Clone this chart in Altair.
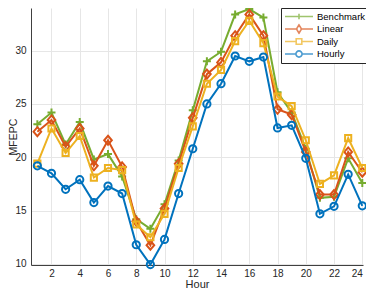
import altair as alt
import pandas as pd

hours = list(range(1, 25))
series_names = ["Benchmark", "Linear", "Daily", "Hourly"]
benchmark = [23.1, 24.2, 21.2, 23.3, 19.8, 20.3, 18.2, 14.2, 13.3, 15.6, 19.7, 24.4,
             29.0, 29.9, 33.4, 33.9, 33.1, 26.1, 24.2, 20.8, 16.2, 16.3, 19.9, 17.6]
linear = [22.4, 23.5, 21.0, 22.7, 19.2, 21.6, 19.1, 14.0, 11.75, 15.2, 19.4, 23.7,
          27.8, 28.9, 31.4, 33.4, 31.4, 24.5, 24.0, 20.5, 16.5, 16.5, 20.5, 18.6]
daily = [19.4, 22.7, 20.4, 22.0, 18.1, 19.0, 18.8, 13.7, 12.5, 14.7, 19.0, 22.9,
         26.9, 28.2, 30.9, 32.8, 30.7, 25.7, 24.8, 21.6, 17.5, 18.3, 21.8, 19.0]
hourly = [19.2, 18.5, 17.0, 17.9, 15.75, 17.3, 16.6, 11.8, 9.94, 12.3, 16.6, 20.8,
          25.0, 26.9, 29.5, 29.0, 29.4, 22.75, 23.0, 19.9, 14.7, 15.4, 18.4, 15.45]
colors = ["#77AC30", "#D95319", "#EDB120", "#0072BD"]
x_ticks = list(range(2, 25, 2))
y_ticks = [10, 15, 20, 25, 30]

values = {"Benchmark": benchmark, "Linear": linear, "Daily": daily, "Hourly": hourly}
df = pd.DataFrame([
    {"hour": h, "series": s, "value": v}
    for s in series_names for h, v in zip(hours, values[s])
])

FONT = "Liberation Sans"
TXT = "#262626"
W, H = 332, 257

x_enc = alt.X(
    "hour:Q",
    scale=alt.Scale(domain=[0.55, 24.05], nice=False, zero=False),
    axis=alt.Axis(values=x_ticks, title="Hour", format="d", grid=True, gridColor="#e6e6e6",
                  ticks=False, domainColor="#404040", labelFont=FONT, labelFontSize=10,
                  labelColor=TXT, labelPadding=3, titleFont=FONT, titleFontSize=11,
                  titleFontWeight="normal", titleColor=TXT, titleX=W / 2, titleY=24,
                  titleBaseline="bottom"),
)
y_enc = alt.Y(
    "value:Q",
    scale=alt.Scale(domain=[9.9, 34.0], nice=False, zero=False),
    axis=alt.Axis(values=y_ticks, title="MFEPC", format="d", grid=True, gridColor="#e6e6e6",
                  ticks=False, domainColor="#404040", labelFont=FONT, labelFontSize=10,
                  labelColor=TXT, labelPadding=5, titleFont=FONT, titleFontSize=10.5,
                  titleFontWeight="normal", titleColor=TXT, titleAngle=270, titleX=-23,
                  titleY=H / 2, titleBaseline="top", titleAlign="center"),
)

marker_shapes = {
    "Benchmark": "M-1,0H1M0,-1V1",
    "Linear": "M0,-1L0.85,0L0,1L-0.85,0Z",
    "Daily": "square",
    "Hourly": "circle",
}
marker_sizes = {"Benchmark": 64, "Linear": 81, "Daily": 38, "Hourly": 52}

layers = []
for s, c in zip(series_names, colors):
    layers.append(
        alt.Chart(df)
        .transform_filter(alt.datum.series == s)
        .mark_line(
            color=c, strokeWidth=2,
            point=alt.OverlayMarkDef(shape=marker_shapes[s], size=marker_sizes[s],
                                     filled=False, color=c, strokeWidth=2, opacity=1),
        )
        .encode(x=x_enc, y=y_enc)
    )

legend_paths = [
    "M-1,0H1M0,-0.2V0.2",
    "M-1,0H-0.18M0.18,0H1M0,-0.3L0.18,0L0,0.3L-0.18,0Z",
    "M-1,0H-0.2M0.2,0H1M-0.2,-0.2H0.2V0.2H-0.2Z",
    "M-1,0H-0.22M0.22,0H1M-0.22,0A0.22,0.22,0,1,0,0.22,0A0.22,0.22,0,1,0,-0.22,0Z",
]
leg = alt.Legend(title=None, orient="none", legendX=250, legendY=0, fillColor="white",
                 strokeColor="#262626", padding=3, symbolSize=784, symbolStrokeWidth=1.6,
                 symbolOffset=0, labelFont=FONT, labelFontSize=9.5, labelColor="black",
                 labelOffset=3, clipHeight=11, rowPadding=1.5)

legend_layer = (
    alt.Chart(df)
    .transform_filter("false")
    .mark_point(filled=False, size=784, strokeWidth=1.6)
    .encode(
        x=x_enc, y=y_enc,
        color=alt.Color("series:N", scale=alt.Scale(domain=series_names, range=colors), legend=leg),
        shape=alt.Shape("series:N", scale=alt.Scale(domain=series_names, range=legend_paths), legend=leg),
    )
)

chart = (
    alt.layer(*layers, legend_layer)
    .properties(width=W, height=H,
                padding={"left": 23, "top": 0, "right": 3, "bottom": 24},
                autosize=alt.AutoSizeParams(type="none"))
    .configure_view(strokeWidth=0)
)

chart.save("out.html", embed_options={"renderer": "svg", "actions": False})
